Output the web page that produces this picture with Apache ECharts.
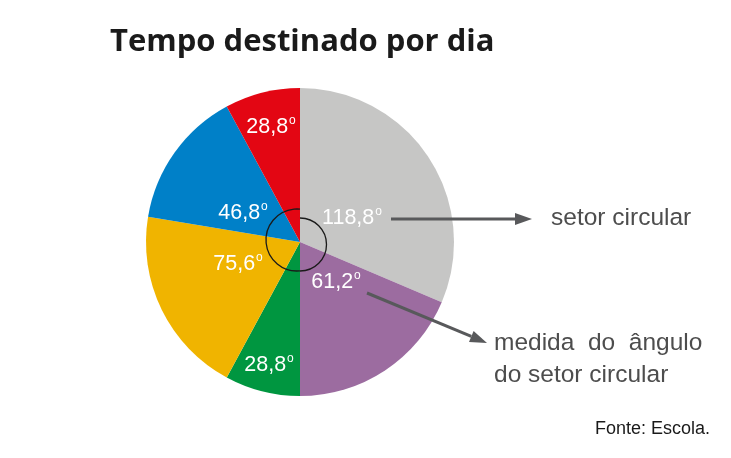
<!DOCTYPE html>
<html>
<head>
<meta charset="utf-8">
<title>Tempo destinado por dia</title>
<script src="https://cdn.jsdelivr.net/npm/echarts@6/dist/echarts.min.js"></script>
<style>
  html, body { margin: 0; padding: 0; background: #fff; }
  #chart { width: 731px; height: 458px; }
</style>
</head>
<body>
<div id="chart"></div>
<script>
// setores como aparecem desenhados na figura (graus, sentido horário a partir do topo)
var setores = [113, 67, 28.4, 71, 52.2, 28.4];
// medidas escritas em cada setor
var rotulos = ['118,8', '61,2', '28,8', '75,6', '46,8', '28,8'];
var cores = ['#c6c6c5', '#9c6ca0', '#009640', '#f0b400', '#0080c8', '#e30613'];

// posição dos rótulos em relação ao centro do círculo (px)
var rotuloPos = [[52, -24], [36, 40], [-31, 123], [-62, 22], [-57, -29], [-29, -115]];

var cx = 300, cy = 242, raio = 154;

// seta com ponta triangular
function seta(x1, y1, x2, y2) {
    var dx = x2 - x1, dy = y2 - y1;
    var len = Math.sqrt(dx * dx + dy * dy);
    var ux = dx / len, uy = dy / len;
    var bx = x2 - ux * 17, by = y2 - uy * 17;
    return [
        {
            type: 'line', z: 10,
            shape: { x1: x1, y1: y1, x2: bx, y2: by },
            style: { stroke: '#58595b', lineWidth: 3 }
        },
        {
            type: 'polygon', z: 10,
            shape: { points: [[x2, y2], [bx - uy * 6, by + ux * 6], [bx + uy * 6, by - ux * 6]] },
            style: { fill: '#58595b' }
        }
    ];
}

var dados = [];
for (var i = 0; i < setores.length; i++) {
    dados.push({ value: setores[i], name: rotulos[i], itemStyle: { color: cores[i] } });
}

var graficos = [
    // marcação do ângulo no centro
    {
        type: 'arc', z: 10,
        shape: { cx: 297, cy: 240, r: 31, startAngle: 1.475, endAngle: 4.808, clockwise: true },
        style: { stroke: '#1a1a1a', lineWidth: 1.3, fill: null }
    },
    {
        type: 'arc', z: 10,
        shape: { cx: 300, cy: 244.5, r: 26.5, startAngle: -Math.PI / 2, endAngle: Math.PI / 2, clockwise: true },
        style: { stroke: '#1a1a1a', lineWidth: 1.3, fill: null }
    },
    {
        type: 'text', x: 551, y: 218, z: 10,
        style: { text: 'setor circular', fontSize: 24.5, fontFamily: 'Liberation Sans', fill: '#4d4d4d', verticalAlign: 'middle' }
    },
    {
        type: 'text', x: 494, y: 343, z: 10,
        style: { text: 'medida  do  ângulo', fontSize: 24.5, fontFamily: 'Liberation Sans', fill: '#4d4d4d', verticalAlign: 'middle' }
    },
    {
        type: 'text', x: 494, y: 375, z: 10,
        style: { text: 'do setor circular', fontSize: 24.5, fontFamily: 'Liberation Sans', fill: '#4d4d4d', verticalAlign: 'middle' }
    },
    {
        type: 'text', x: 710, y: 429, z: 10,
        style: { text: 'Fonte: Escola.', fontSize: 18, fontFamily: 'Liberation Sans', fill: '#1a1a1a', align: 'right', verticalAlign: 'middle' }
    }
].concat(seta(391, 219, 532, 219), seta(367, 293, 487, 343));

var option = {
    animation: false,
    title: {
        text: 'Tempo destinado por dia',
        left: 105,
        top: 22,
        textStyle: { fontSize: 31, fontWeight: 'bold', fontFamily: 'Open Sans', color: '#1a1a1a' }
    },
    series: [
        {
            type: 'pie',
            center: [cx, cy],
            radius: raio,
            startAngle: 90,
            clockwise: true,
            silent: true,
            data: dados,
            itemStyle: { borderWidth: 0 },
            label: {
                show: true,
                position: 'inside',
                formatter: function (p) { return '{v|' + p.name + '}{d|o}'; },
                rich: {
                    v: { fontSize: 21.5, fontFamily: 'Liberation Sans', color: '#fff', lineHeight: 24 },
                    d: { fontSize: 12, fontFamily: 'Liberation Sans', color: '#fff', verticalAlign: 'top', padding: [0, 0, 0, 1] }
                }
            },
            labelLine: { show: false },
            labelLayout: function (p) {
                var o = rotuloPos[p.dataIndex];
                return { x: cx + o[0], y: cy + o[1], align: 'center', verticalAlign: 'middle' };
            }
        }
    ],
    graphic: graficos
};

var chart = echarts.init(document.getElementById('chart'));
chart.setOption(option);
</script>
</body>
</html>
